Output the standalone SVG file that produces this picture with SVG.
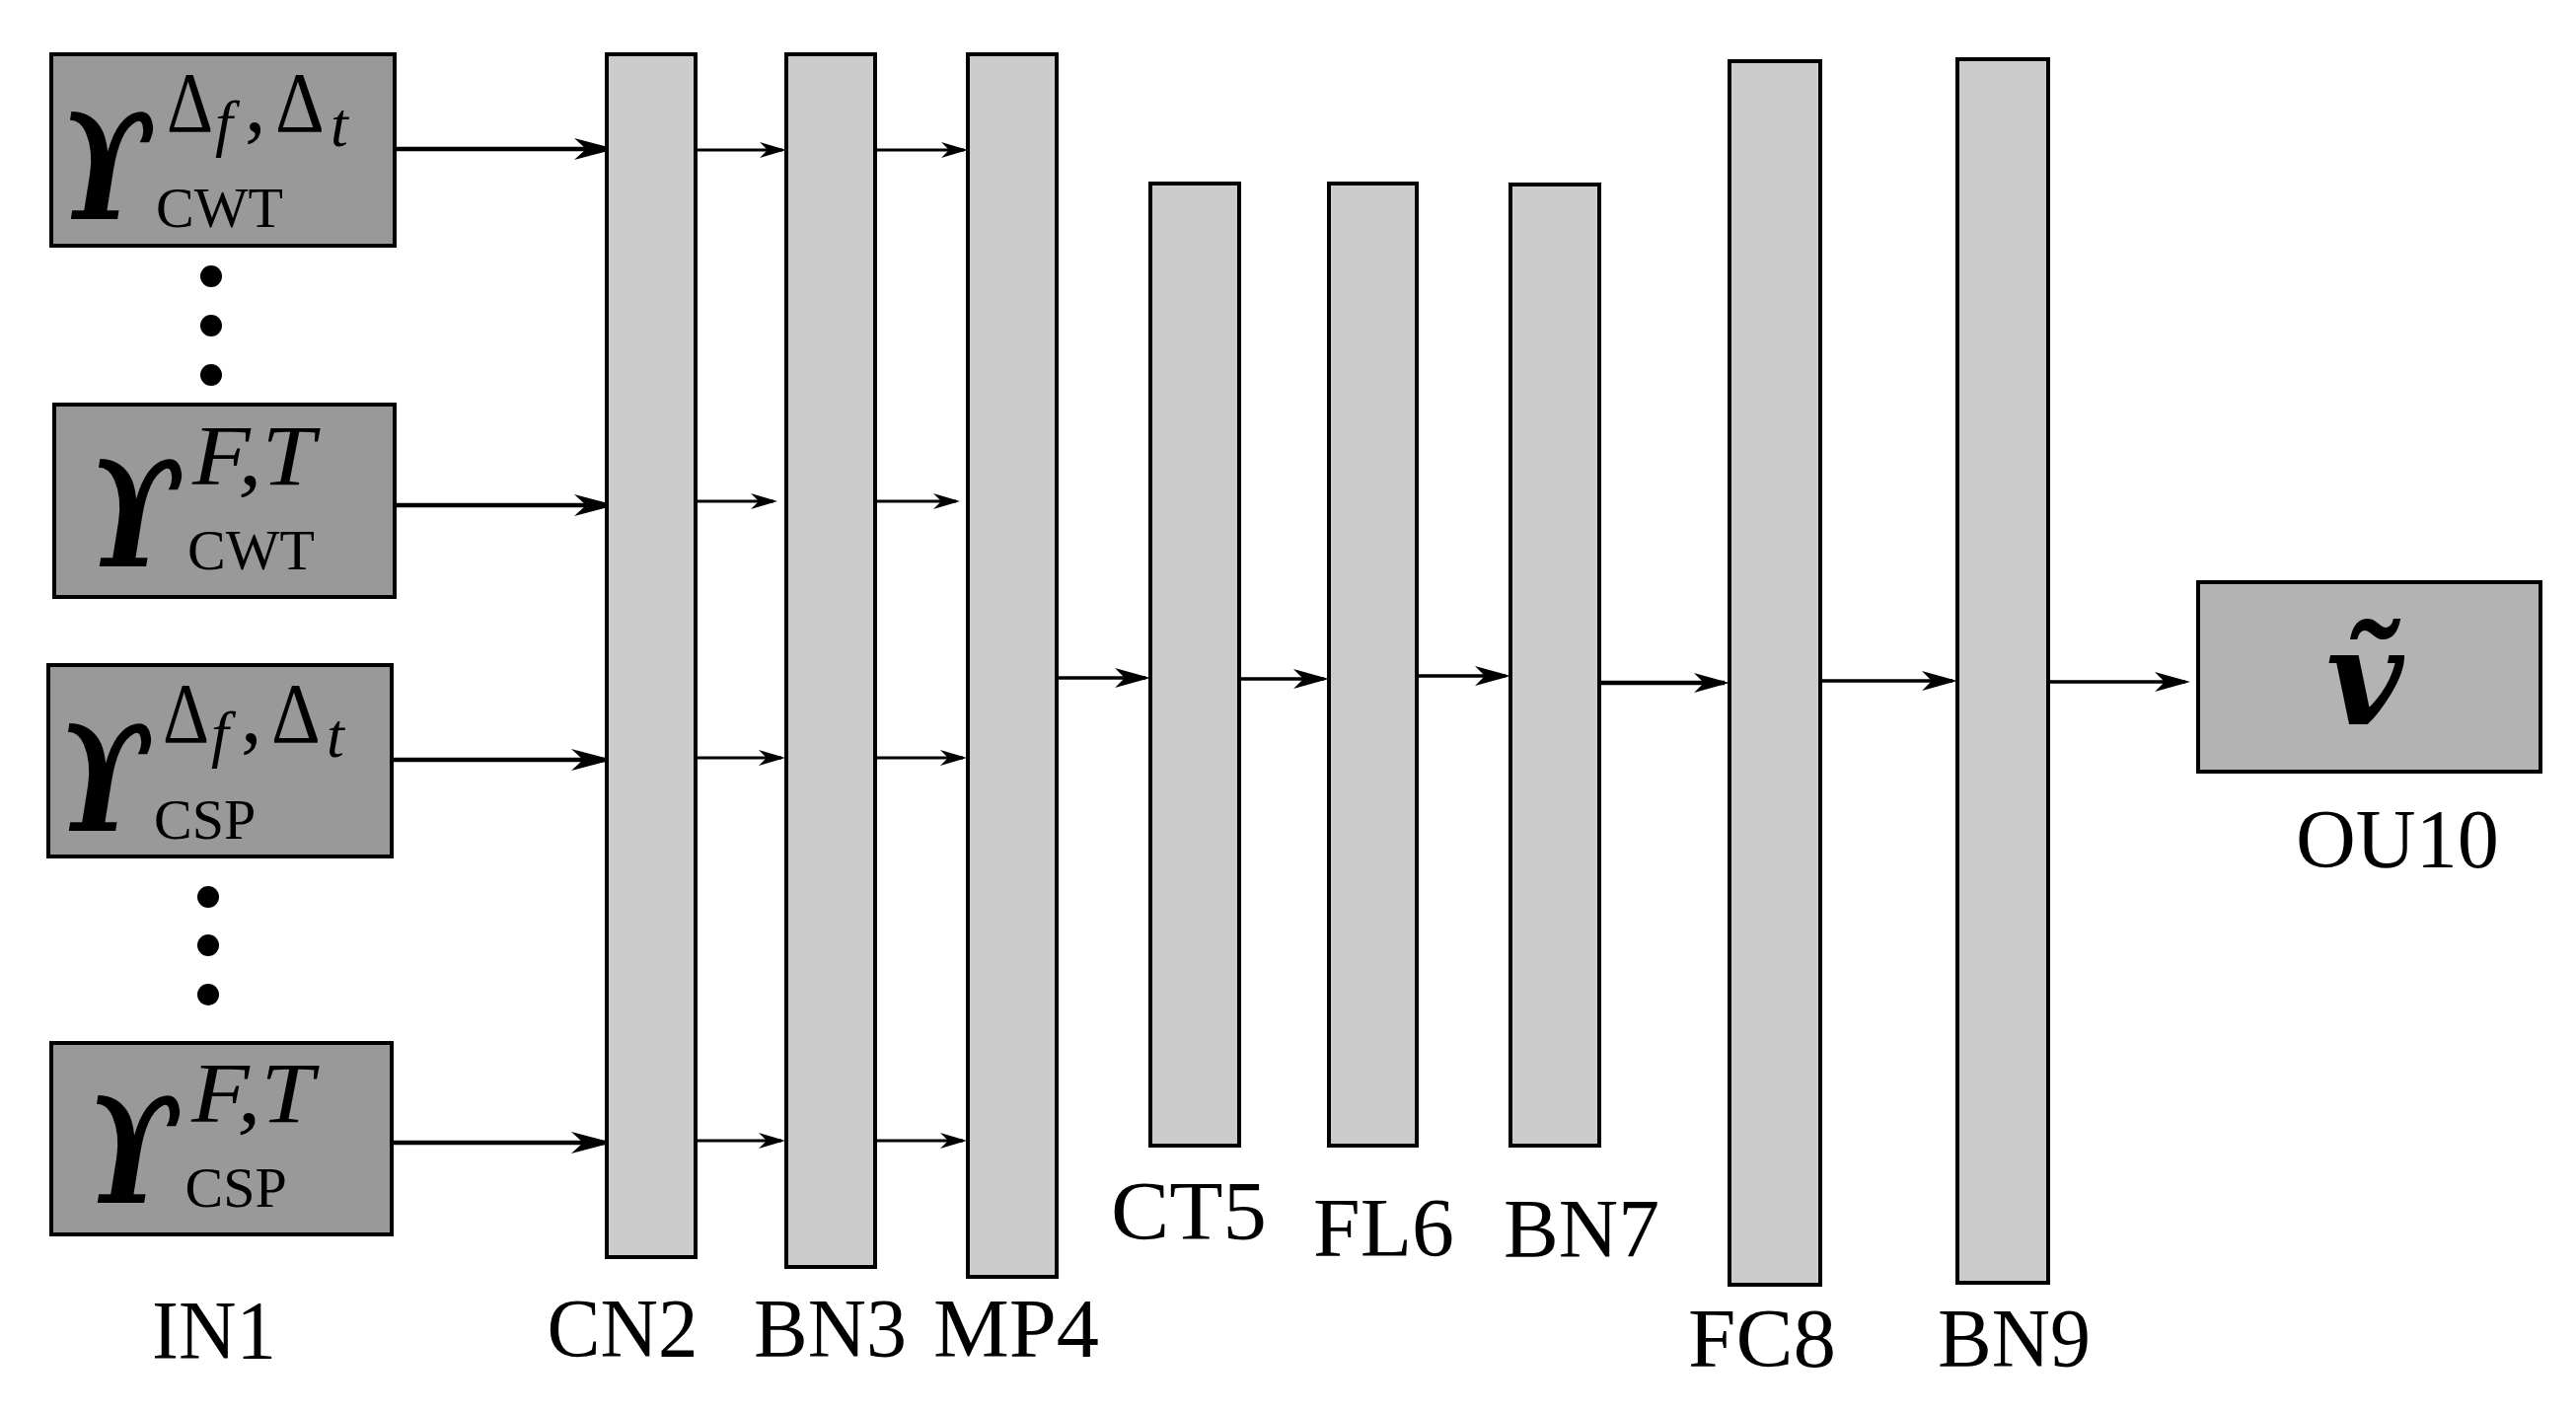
<svg xmlns="http://www.w3.org/2000/svg" width="2611" height="1433" viewBox="0 0 2611 1433">
<defs>
<style>
.in{fill:#999999;stroke:#000;stroke-width:4}
.bar{fill:#cccccc;stroke:#000;stroke-width:4}
.out{fill:#b3b3b3;stroke:#000;stroke-width:4}
.lbl{font-family:"Liberation Serif","DejaVu Serif",serif;font-size:84px;fill:#000;text-anchor:middle}
.ups{font-family:"DejaVu Serif",serif;font-weight:bold;font-style:italic;font-size:150px;fill:#000}
.m{font-family:"Liberation Serif","DejaVu Serif",serif;fill:#000}
.big{font-size:86px}
.it{font-style:italic}
.sm{font-size:64px}
.sub{font-size:58px}
.dot{fill:#000}
.a1{stroke:#000;stroke-width:4.5;fill:none;marker-end:url(#hb)}
.a2{stroke:#000;stroke-width:3;fill:none;marker-end:url(#hs)}
.a3{stroke:#000;stroke-width:3.5;fill:none;marker-end:url(#hm)}
</style>
<marker id="hb" markerUnits="userSpaceOnUse" viewBox="0 -11 42 22" refX="36" refY="0" markerWidth="42" markerHeight="22" orient="auto"><path d="M0,-11 L42,0 L0,11 L12,0 Z" fill="#000"/></marker>
<marker id="hs" markerUnits="userSpaceOnUse" viewBox="0 -8 27 16" refX="23" refY="0" markerWidth="27" markerHeight="16" orient="auto"><path d="M0,-8 L27,0 L0,8 L8,0 Z" fill="#000"/></marker>
<marker id="hm" markerUnits="userSpaceOnUse" viewBox="0 -10 36 20" refX="31" refY="0" markerWidth="36" markerHeight="20" orient="auto"><path d="M0,-10 L36,0 L0,10 L10,0 Z" fill="#000"/></marker>
</defs>
<rect width="2611" height="1433" fill="#fff"/>

<g id="connectors">
<line class="a1" x1="400" y1="151" x2="618" y2="151"/>
<line class="a1" x1="400" y1="512" x2="618" y2="512"/>
<line class="a1" x1="397" y1="770" x2="615" y2="770"/>
<line class="a1" x1="397" y1="1158" x2="615" y2="1158"/>
<line class="a2" x1="701" y1="152" x2="793" y2="152"/>
<line class="a2" x1="885" y1="152" x2="977" y2="152"/>
<line class="a2" x1="697" y1="508" x2="784" y2="508"/>
<line class="a2" x1="880" y1="508" x2="969" y2="508"/>
<line class="a2" x1="702" y1="768" x2="792" y2="768"/>
<line class="a2" x1="888" y1="768" x2="976" y2="768"/>
<line class="a2" x1="702" y1="1156" x2="792" y2="1156"/>
<line class="a2" x1="888" y1="1156" x2="976" y2="1156"/>
<line class="a3" x1="1072" y1="687" x2="1161" y2="687"/>
<line class="a3" x1="1256" y1="688" x2="1342" y2="688"/>
<line class="a3" x1="1436" y1="685" x2="1526" y2="685"/>
<line class="a3" x1="1621" y1="692" x2="1748" y2="692" style="stroke-width:4.5"/>
<line class="a3" x1="1845" y1="690" x2="1979" y2="690"/>
<line class="a3" x1="2076" y1="691" x2="2215" y2="691"/>
</g>

<g id="in1">
<g id="in1-a">
<rect class="in" x="52" y="55" width="348" height="194"/>
<text class="ups" transform="translate(60,222) scale(0.82,1)">ϒ</text>
<text class="m big" transform="translate(169,133) scale(0.85,1)">Δ</text>
<text class="m sm it" x="218" y="146">f</text>
<text class="m big" x="248" y="133">,</text>
<text class="m big" transform="translate(279,133) scale(0.9,1)">Δ</text>
<text class="m sm it" x="335" y="148">t</text>
<text class="m sub" x="158" y="230">CWT</text>
</g>
<g id="dots-a">
<circle class="dot" cx="214" cy="280" r="11"/>
<circle class="dot" cx="214" cy="330" r="11"/>
<circle class="dot" cx="214" cy="380" r="11"/>
</g>
<g id="in1-b">
<rect class="in" x="55" y="410" width="345" height="195"/>
<text class="ups" transform="translate(89,574) scale(0.82,1)">ϒ</text>
<text class="m big it" x="195" y="491" textLength="124" lengthAdjust="spacingAndGlyphs">F,T</text>
<text class="m sub" x="190" y="577">CWT</text>
</g>
<g id="in1-c">
<rect class="in" x="49" y="674" width="348" height="194"/>
<text class="ups" transform="translate(58,842) scale(0.82,1)">ϒ</text>
<text class="m big" transform="translate(165,752) scale(0.85,1)">Δ</text>
<text class="m sm it" x="214" y="765">f</text>
<text class="m big" x="244" y="752">,</text>
<text class="m big" transform="translate(275,752) scale(0.9,1)">Δ</text>
<text class="m sm it" x="331" y="767">t</text>
<text class="m sub" x="156" y="850">CSP</text>
</g>
<g id="dots-b">
<circle class="dot" cx="211" cy="909" r="11"/>
<circle class="dot" cx="211" cy="958" r="11"/>
<circle class="dot" cx="211" cy="1008" r="11"/>
</g>
<g id="in1-d">
<rect class="in" x="52" y="1057" width="345" height="194"/>
<text class="ups" transform="translate(87,1219) scale(0.82,1)">ϒ</text>
<text class="m big it" x="194" y="1137" textLength="124" lengthAdjust="spacingAndGlyphs">F,T</text>
<text class="m sub" x="187.5" y="1223">CSP</text>
</g>
<text class="lbl" x="217" y="1377" textLength="126" lengthAdjust="spacingAndGlyphs">IN1</text>
</g>

<g id="cn2"><rect class="bar" x="615" y="55" width="90" height="1219"/><text class="lbl" x="631" y="1375" textLength="153" lengthAdjust="spacingAndGlyphs">CN2</text></g>
<g id="bn3"><rect class="bar" x="797" y="55" width="90" height="1229"/><text class="lbl" x="841.5" y="1375" textLength="155" lengthAdjust="spacingAndGlyphs">BN3</text></g>
<g id="mp4"><rect class="bar" x="981" y="55" width="90" height="1239"/><text class="lbl" x="1030" y="1375" textLength="168" lengthAdjust="spacingAndGlyphs">MP4</text></g>
<g id="ct5"><rect class="bar" x="1166" y="186" width="90" height="975"/><text class="lbl" x="1205" y="1256" textLength="158" lengthAdjust="spacingAndGlyphs">CT5</text></g>
<g id="fl6"><rect class="bar" x="1347" y="186" width="89" height="975"/><text class="lbl" x="1402.5" y="1273" textLength="143" lengthAdjust="spacingAndGlyphs">FL6</text></g>
<g id="bn7"><rect class="bar" x="1531" y="187" width="90" height="974"/><text class="lbl" x="1603" y="1274" textLength="158" lengthAdjust="spacingAndGlyphs">BN7</text></g>
<g id="fc8"><rect class="bar" x="1753" y="62" width="92" height="1240"/><text class="lbl" x="1786" y="1385" textLength="150" lengthAdjust="spacingAndGlyphs">FC8</text></g>
<g id="bn9"><rect class="bar" x="1984" y="60" width="92" height="1240"/><text class="lbl" x="2041.5" y="1385" textLength="155" lengthAdjust="spacingAndGlyphs">BN9</text></g>
<g id="ou10"><rect class="out" x="2228" y="590" width="347" height="192"/><text class="ups" x="2397" y="734" style="font-size:135px;text-anchor:middle">ṽ</text><text class="lbl" x="2430" y="879" textLength="206" lengthAdjust="spacingAndGlyphs">OU10</text></g>
</svg>
